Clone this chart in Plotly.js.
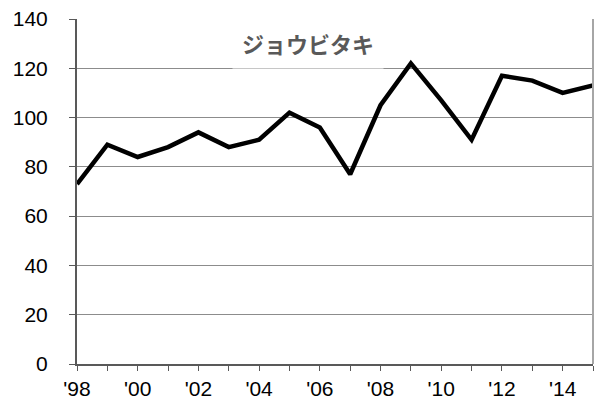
<!DOCTYPE html>
<html>
<head>
<meta charset="utf-8">
<script src="https://cdn.plot.ly/plotly-3.0.1.min.js"></script>
<style>
  html, body { margin: 0; padding: 0; background: #fff; }
  #chart { width: 595px; height: 403px; }
</style>
</head>
<body>
<div id="chart"></div>
<script>
// Yearly counts of ジョウビタキ (Daurian redstart), 1998–2015
const years = [1998, 1999, 2000, 2001, 2002, 2003, 2004, 2005, 2006,
               2007, 2008, 2009, 2010, 2011, 2012, 2013, 2014, 2015];
const counts = [73, 89, 84, 88, 94, 88, 91, 102, 96,
                77, 105, 122, 107, 91, 117, 115, 110, 113];
const xTickVals = [1998, 2000, 2002, 2004, 2006, 2008, 2010, 2012, 2014];
const xTickText = ["'98", "'00", "'02", "'04", "'06", "'08", "'10", "'12", "'14"];
const yTickVals = [0, 20, 40, 60, 80, 100, 120, 140];
const chartTitle = "ジョウビタキ";

const tickFont = "'Liberation Sans', Arial, sans-serif";
const titleFont = "'Noto Sans CJK JP', 'Noto Sans', sans-serif";

const trace = {
  x: years,
  y: counts,
  type: "scatter",
  mode: "lines",
  line: { color: "#000000", width: 4.5 },
  hoverinfo: "skip"
};

const layout = {
  width: 595,
  height: 403,
  margin: { l: 77, r: 2, t: 19, b: 39 },
  paper_bgcolor: "#ffffff",
  plot_bgcolor: "#ffffff",
  showlegend: false,
  font: { family: tickFont, size: 21, color: "#000000" },
  xaxis: {
    range: [1998, 2015],
    tickvals: xTickVals,
    ticktext: xTickText,
    ticks: "outside",
    ticklen: 5,
    tickwidth: 1,
    tickcolor: "#595959",
    minor: { dtick: 1, tick0: 1998, ticks: "outside", ticklen: 5, tickcolor: "#595959", showgrid: false },
    showgrid: false,
    zeroline: false,
    showline: true,
    linecolor: "#595959",
    linewidth: 2,
    tickfont: { family: tickFont, size: 21, color: "#000000" },
    fixedrange: true
  },
  yaxis: {
    range: [0, 140],
    tickvals: yTickVals,
    ticks: "outside",
    ticklen: 6,
    tickwidth: 1,
    tickcolor: "#595959",
    showgrid: true,
    gridcolor: "#8c8c8c",
    gridwidth: 1,
    zeroline: false,
    showline: true,
    linecolor: "#595959",
    linewidth: 2,
    ticklabelstandoff: 17,
    tickfont: { family: tickFont, size: 21, color: "#000000" },
    fixedrange: true
  },
  shapes: [
    // right frame edge
    { type: "line", xref: "paper", yref: "paper", x0: 1, x1: 1, y0: 0, y1: 1,
      line: { color: "#a6a6a6", width: 2 } }
  ],
  annotations: [
    {
      text: "<b>" + chartTitle + "</b>",
      xref: "paper", yref: "paper",
      x: 0.4486, y: 0.929,
      xanchor: "center", yanchor: "middle",
      showarrow: false,
      bgcolor: "#ffffff",
      borderpad: 9,
      font: { family: titleFont, size: 22, color: "#595959" }
    }
  ]
};

Plotly.newPlot("chart", [trace], layout, { displayModeBar: false, staticPlot: true });
</script>
</body>
</html>
